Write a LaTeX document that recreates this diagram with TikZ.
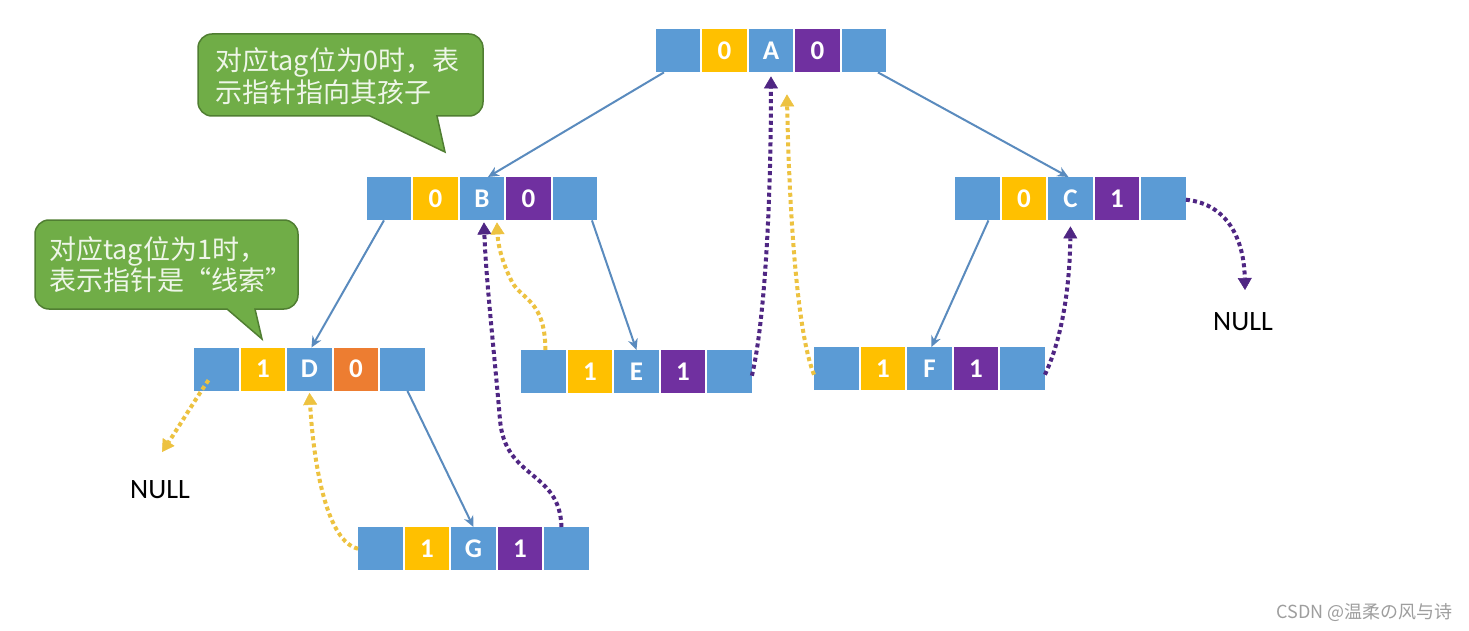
\documentclass[tikz,border=0pt]{standalone}
\usepackage{fontspec}
\setmainfont{Carlito}
\newfontfamily\cjk{Noto Sans CJK SC}
\usetikzlibrary{arrows.meta,calc}
\definecolor{cblue}{HTML}{5B9BD5}
\definecolor{cyellow}{HTML}{FFC000}
\definecolor{cpurple}{HTML}{7030A0}
\definecolor{corange}{HTML}{ED7D31}
\definecolor{edgeblue}{HTML}{5A8BBE}
\definecolor{dotpurple}{HTML}{4F2683}
\definecolor{dotyellow}{HTML}{EDC240}
\definecolor{cgreen}{HTML}{70AD47}
\definecolor{cgreendark}{HTML}{507E32}
\definecolor{ctext}{HTML}{EEF6E8}
\tikzset{
  cell/.style={minimum width=44.5pt, minimum height=43pt, inner sep=0pt, anchor=north west,
    text=white, font=\bfseries\fontsize{27}{27}\selectfont},
  tree/.style={draw=edgeblue, line width=2pt, -{Stealth[length=11pt,width=10pt]}},
  thr/.style={line width=4pt, dash pattern=on 4pt off 3.2pt,
    -{Triangle[length=12pt,width=14pt,line width=0.5pt]}},
  thp/.style={thr, draw=dotpurple},
  thy/.style={thr, draw=dotyellow},
  callout/.style={fill=cgreen, draw=cgreendark, line width=1.5pt},
  ctxt/.style={anchor=base west, inner sep=0pt, text=ctext, font=\cjk\fontsize{27}{27}\selectfont},
  nulltxt/.style={inner sep=0pt, font=\fontsize{28}{28}\selectfont},
}
\newcommand\bitnode[7]{%
  \node[cell,fill=cblue] (#1-1) at (#2,#3) {};
  \node[cell,fill=cyellow] (#1-2) at (#2+46.5,#3) {#4};
  \node[cell,fill=cblue] (#1-3) at (#2+93,#3) {#5};
  \node[cell,fill=#7] (#1-4) at (#2+139.5,#3) {#6};
  \node[cell,fill=cblue] (#1-5) at (#2+186,#3) {};
}
\begin{document}
\begin{tikzpicture}[x=1pt,y=-1pt]
\useasboundingbox[fill=white] (0,0) rectangle (1469,631);

% callouts
\draw[callout] (437,116) [rounded corners=14pt] -- (483,116) -- (483,34) -- (198,34) -- (198,116) [sharp corners] -- (370,116) -- (445,152) -- cycle;
\node[ctxt] (c1a) at (215,71) {对应tag位为0时，表};
\node[ctxt] (c1b) at (215,103) {示指针指向其孩子};

\draw[callout] (255,309) [rounded corners=14pt] -- (298,309) -- (298,220) -- (35,220) -- (35,309) [sharp corners] -- (227,309) -- (262,339) -- cycle;
\node[ctxt] (c2a) at (49,259) {对应tag位为1时，};
\node[ctxt] (c2b) at (49,290) {表示指针是“线索”};

% nodes
\bitnode{A}{655.5}{29}{0}{A}{0}{cpurple}
\bitnode{B}{366.5}{177}{0}{B}{0}{cpurple}
\bitnode{C}{955}{177}{0}{C}{1}{cpurple}
\bitnode{D}{194}{347.5}{1}{D}{0}{corange}
\bitnode{E}{521}{350}{1}{E}{1}{cpurple}
\bitnode{F}{814}{347}{1}{F}{1}{cpurple}
\bitnode{G}{358}{527}{1}{G}{1}{cpurple}

\node[nulltxt] (null1) at (160,490) {NULL};
\node[nulltxt] (null2) at (1243,322) {NULL};
\coordinate (n1end) at (162,452);
\coordinate (n2end) at (1245,290);
\coordinate (fAend) at ($(A-3.south)+(16,22)$);
\node[anchor=east, inner sep=0pt, text=black!38, font=\cjk\fontsize{18}{18}\selectfont] (wm) at (1453,613) {CSDN @温柔の风与诗};

% tree edges
\draw[tree] ([xshift=-14pt]A-1.south) -- ([xshift=6pt]B-3.north);
\draw[tree] ([xshift=14pt]A-5.south) -- ([xshift=-2pt]C-3.north);
\draw[tree] ([xshift=-5pt]B-1.south) -- ([xshift=2pt]D-3.north);
\draw[tree] ([xshift=17pt]B-5.south) -- (E-3.north);
\draw[tree] ([xshift=11pt]C-1.south) -- ([xshift=2pt]F-3.north);
\draw[tree] ([xshift=5pt]D-5.south) -- (G-3.north);

% thread pointers
\draw[thy] ($(D-1.center)+(-8,11)$) .. controls (195,400) and (178,428) .. (n1end);
\draw[thy] (G-1.west) .. controls (328,542) and (314,470) .. ([yshift=-2pt]D-3.south);
\draw[thp] ([xshift=-5pt]G-5.north) .. controls (560,470) and (505,480) .. (500,420) .. controls (495,360) and (486,280) .. ([xshift=2pt,yshift=-2pt]B-3.south);
\draw[thy] ([xshift=2pt]E-1.north) .. controls (545,300) and (522,300) .. (512,282) .. controls (502,262) and (498,245) .. ([xshift=15pt,yshift=-2pt]B-3.south);
\draw[thp] ([yshift=-4pt]E-5.east) .. controls (765,320) and (771,200) .. ([yshift=-4pt]A-3.south);
\draw[thy] ([yshift=-6pt]F-1.west) .. controls (796,330) and (789,200) .. (fAend);
\draw[thp] ([yshift=-6pt]F-5.east) .. controls (1066,330) and (1070,270) .. ([yshift=-6pt]C-3.south);
\draw[thp] ([yshift=-1pt]C-5.east) .. controls (1228,204) and (1244,240) .. (n2end);
\end{tikzpicture}
\end{document}
